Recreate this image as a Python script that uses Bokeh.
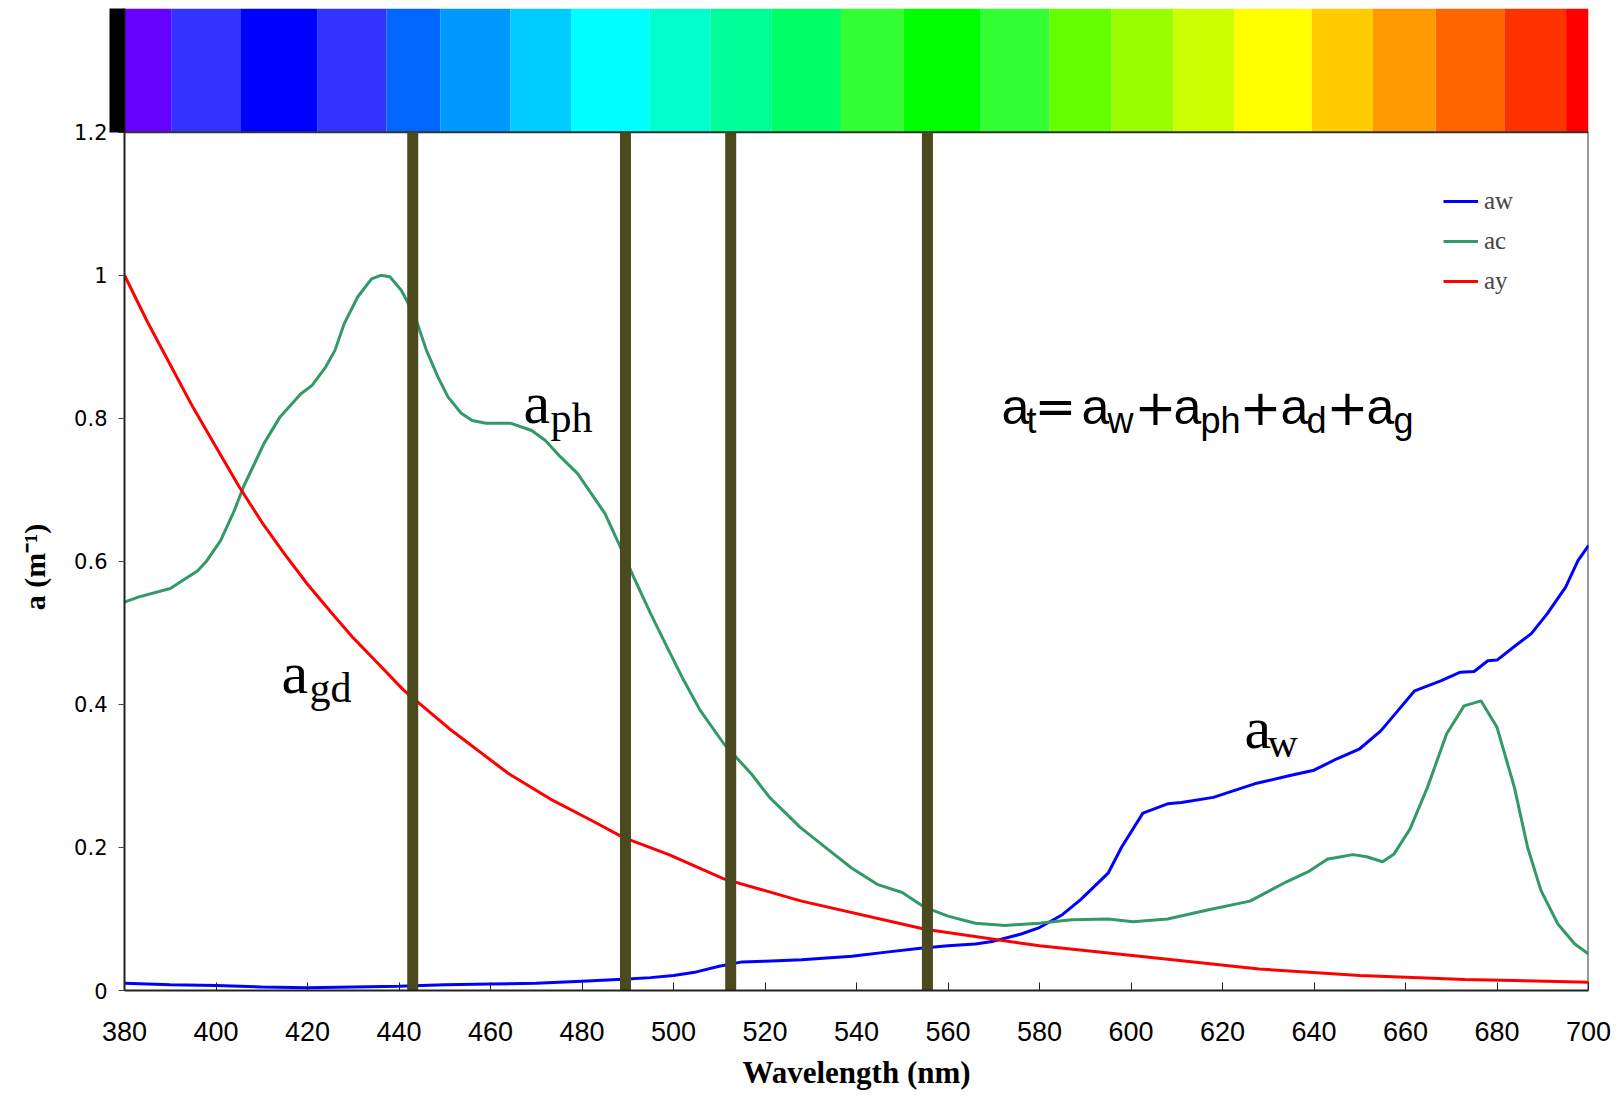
from bokeh.plotting import figure
from bokeh.models import (Range1d, FixedTicker, CustomJSTickFormatter, Label,
                          Legend, LegendItem)
from bokeh.embed import file_html
from bokeh.resources import INLINE

# ---------------- data ----------------
aw_wl = [380, 390, 400, 410, 420, 430, 440, 450, 460, 470, 480, 490, 495, 500, 505, 510, 515,
         520, 528, 539, 547, 554, 560, 566, 570, 576, 580, 585, 589, 595, 598, 602.6, 608, 611,
         618, 627, 635, 640, 645, 650, 654.6, 658.3, 662, 667.7, 672, 675, 678, 680, 684,
         687.5, 691, 695, 697.7, 700]
aw = [0.01, 0.008, 0.007, 0.005, 0.004, 0.005, 0.006, 0.008, 0.009, 0.01, 0.013, 0.016, 0.018,
      0.021, 0.026, 0.034, 0.04, 0.041, 0.043, 0.048, 0.054, 0.059, 0.0625, 0.065, 0.069, 0.079,
      0.088, 0.106, 0.127, 0.164, 0.201, 0.248, 0.261, 0.263, 0.27, 0.289, 0.301, 0.308, 0.324,
      0.338, 0.363, 0.391, 0.419, 0.433, 0.445, 0.446, 0.461, 0.462, 0.482, 0.499, 0.527, 0.564,
      0.601, 0.622]

ac_wl = [380, 383, 390, 396, 398, 401, 404, 406, 410.5, 414, 418.5, 421, 424, 426, 428, 431,
         434, 436, 438, 440.5, 442, 444, 446, 448.5, 450.7, 453.6, 456, 459, 464.5, 469, 472,
         475.3, 479, 482, 485, 488.4, 491.3, 495, 498.6, 502.2, 505.8, 511, 517, 521, 527.7,
         535, 539, 544.7, 550, 554.7, 560, 566, 572.5, 580, 587, 595, 600.5, 608, 617, 626, 634,
         639, 643, 645, 648.5, 651.5, 655, 657.5, 661, 664.8, 669, 672.8, 676.5, 680, 683.8,
         686.7, 689.6, 693.3, 697, 700]
ac = [0.543, 0.55, 0.562, 0.587, 0.601, 0.629, 0.671, 0.704, 0.765, 0.802, 0.834, 0.846, 0.872,
      0.895, 0.932, 0.970, 0.995, 1.0, 0.998, 0.979, 0.961, 0.933, 0.895, 0.858, 0.830, 0.807,
      0.797, 0.793, 0.793, 0.783, 0.769, 0.746, 0.723, 0.695, 0.667, 0.62, 0.578, 0.527, 0.48,
      0.434, 0.392, 0.345, 0.303, 0.270, 0.228, 0.191, 0.171, 0.148, 0.137, 0.117, 0.104, 0.094,
      0.091, 0.094, 0.099, 0.1, 0.096, 0.1, 0.113, 0.125, 0.152, 0.167, 0.184, 0.186, 0.19,
      0.187, 0.18, 0.191, 0.226, 0.284, 0.359, 0.398, 0.405, 0.368, 0.284, 0.2, 0.14, 0.093,
      0.065, 0.051]

ay_wl = [380, 385, 390, 395, 400, 405, 410, 415, 420, 425, 430, 435, 441, 451, 464, 473, 482,
         489, 499, 511, 528, 555, 580, 606, 628, 650, 673, 700]
ay = [1.0, 0.935, 0.875, 0.815, 0.76, 0.705, 0.655, 0.61, 0.568, 0.53, 0.493, 0.46, 0.42, 0.366,
      0.303, 0.268, 0.238, 0.214, 0.19, 0.156, 0.125, 0.0856, 0.0625, 0.045, 0.030, 0.021,
      0.0153, 0.0116]

bands = [443, 489.5, 512.5, 555.5]

# colour strip: first (black) cell lies just left of 380 nm, outside the plot frame
black_cell = [376.7, 380]
bar_edges = [380, 390.2, 405.3, 422.1, 437.3, 449.0, 464.4, 477.6, 494.8, 508.1, 521.5,
             536.6, 550.3, 567.0, 582.2, 595.7, 609.3, 622.6, 639.5, 652.9, 666.6, 681.6, 695.1,
             700]
bar_colors = ["#6600FF", "#3333FF", "#0000FF", "#3333FF", "#0066FF", "#0099FF",
              "#00CCFF", "#00FFFF", "#00FFCC", "#00FF99", "#00FF66", "#33FF33", "#00FF00",
              "#33FF33", "#66FF00", "#99FF00", "#CCFF00", "#FFFF00", "#FFCC00", "#FF9900",
              "#FF6600", "#FF3300", "#FF0000"]

x_ticks = [380, 400, 420, 440, 460, 480, 500, 520, 540, 560, 580, 600, 620, 640, 660, 680, 700]
y_ticks = [0, 0.2, 0.4, 0.6, 0.8, 1.0, 1.2]
series_names = ["aw", "ac", "ay"]

# ---------------- layout constants ----------------
XMIN, XMAX = 380, 700
YMIN, YMAX = 0, 1.2
YBAR_TOP = 1.373
BLUE, GREEN, RED = "#0000FF", "#339966", "#FF0000"
OLIVE = "#4A4A1E"
FRAME_W, FRAME_H = 1464, 982

p = figure(width=1613, height=1098, x_range=Range1d(XMIN, XMAX),
           y_range=Range1d(YMIN, YBAR_TOP), output_backend="svg", toolbar_location=None,
           min_border_left=124, min_border_right=25, min_border_top=8, min_border_bottom=108)
p.outline_line_color = None
p.xgrid.visible = False
p.ygrid.visible = False
p.background_fill_color = "white"
p.border_fill_color = "white"

# x axis
p.xaxis.ticker = FixedTicker(ticks=x_ticks)
p.xaxis.major_label_text_font = "Liberation Sans"
p.xaxis.major_label_text_font_size = "27px"
p.xaxis.major_label_text_color = "black"
p.xaxis.major_tick_in = 8
p.xaxis.major_tick_out = 0
p.xaxis.minor_tick_line_color = None
p.xaxis.axis_line_width = 2
p.xaxis.axis_line_color = "#222222"
p.xaxis.major_tick_line_color = "#222222"
p.xaxis.major_label_standoff = 31
p.xaxis.axis_label = "Wavelength (nm)"
p.xaxis.axis_label_text_font = "Liberation Serif"
p.xaxis.axis_label_text_font_style = "bold"
p.xaxis.axis_label_text_font_size = "31px"
p.xaxis.axis_label_text_color = "black"
p.xaxis.axis_label_standoff = 11

# y axis; its single minor tick draws the black cell of the colour strip left of 380 nm
strip_mid = (YMAX + YBAR_TOP) / 2
p.yaxis.ticker = FixedTicker(ticks=y_ticks, minor_ticks=[strip_mid])
p.yaxis.formatter = CustomJSTickFormatter(code="return tick.toString()")
p.yaxis.major_label_text_font = "DejaVu Sans"
p.yaxis.major_label_text_font_size = "21px"
p.yaxis.major_label_text_color = "black"
p.yaxis.major_tick_in = 0
p.yaxis.major_tick_out = 6
p.yaxis.minor_tick_in = 0
p.yaxis.minor_tick_out = round((black_cell[1] - black_cell[0]) * FRAME_W / (XMAX - XMIN))
p.yaxis.minor_tick_line_width = round((YBAR_TOP - YMAX) * FRAME_H / YBAR_TOP)
p.yaxis.minor_tick_line_color = "#000000"
p.yaxis.minor_tick_line_cap = "butt"
p.yaxis.axis_line_width = 2
p.yaxis.axis_line_color = "#222222"
p.yaxis.major_tick_line_color = "#444444"
p.yaxis.major_label_standoff = 2
# trailing no-break spaces centre the visible title on the 0-1.2 part of the axis
p.yaxis.axis_label = "a (m⁻¹)" + "\u00a0" * 18
p.yaxis.axis_label_text_font = "Liberation Serif"
p.yaxis.axis_label_text_font_style = "bold"
p.yaxis.axis_label_text_font_size = "30px"
p.yaxis.axis_label_text_color = "black"
p.yaxis.axis_label_standoff = 20

# colour bar
p.quad(left=bar_edges[:-1], right=bar_edges[1:], bottom=YMAX, top=YBAR_TOP,
       fill_color=bar_colors, line_color=None)

# frame top / right
p.line(x=[XMIN, XMAX, XMAX], y=[YMAX, YMAX, YMIN], line_color="#333333", line_width=2)

# curves
r_aw = p.line(aw_wl, aw, line_color=BLUE, line_width=3)
r_ac = p.line(ac_wl, ac, line_color=GREEN, line_width=3)
r_ay = p.line(ay_wl, ay, line_color=RED, line_width=3)

# band bars
p.segment(x0=bands, y0=YMIN, x1=bands, y1=YMAX, line_color=OLIVE, line_width=11)

legend = Legend(items=[LegendItem(label=n, renderers=[r]) for n, r in
                       zip(series_names, [r_aw, r_ac, r_ay])],
                location=(1319, 694), padding=0, margin=0, spacing=10,
                glyph_width=35, glyph_height=30, label_height=30, label_standoff=6,
                label_text_font="Liberation Serif", label_text_font_size="25px",
                border_line_color=None, background_fill_alpha=0)
p.add_layout(legend)


def lab(text, x, y, size, font="Liberation Serif", dx=0, dy=0, style="normal"):
    p.add_layout(Label(x=x, y=y, text=text, x_offset=dx, y_offset=dy,
                       text_font=font, text_font_size=f"{size}px", text_font_style=style,
                       text_align="left", text_baseline="alphabetic", text_color="black"))


# curve annotations (Times-like)
for (ax, ay_, sub, sdx) in [(467.2, 0.821, "ph", 27), (414.3, 0.4434, "gd", 28),
                            (624.8, 0.3664, "w", 23)]:
    lab("a", ax, ay_, 60)
    lab(sub, ax, ay_, 42, dx=sdx, dy=-15)

# equation
EQX, EQY = 571.7, 0.8154
M, S, OP = 50, 36, 50
eq_parts = [("a", 0, 0, M, "Liberation Sans"), ("t", 25, -13, S, "Liberation Sans"),
            ("=", 33, 0, OP, "DejaVu Sans"), ("a", 80, 0, M, "Liberation Sans"),
            ("w", 106, -13, S, "Liberation Sans"), ("+", 133, 0, OP, "DejaVu Sans"),
            ("a", 172, 0, M, "Liberation Sans"), ("ph", 199, -13, S, "Liberation Sans"),
            ("+", 238, 0, OP, "DejaVu Sans"), ("a", 279, 0, M, "Liberation Sans"),
            ("d", 305, -13, S, "Liberation Sans"), ("+", 325, 0, OP, "DejaVu Sans"),
            ("a", 365, 0, M, "Liberation Sans"), ("g", 392, -13, S, "Liberation Sans")]
for t, dx, dy, sz, f in eq_parts:
    lab(t, EQX, EQY, sz, font=f, dx=dx, dy=dy)

open("out.html", "w").write(file_html(p, INLINE))
